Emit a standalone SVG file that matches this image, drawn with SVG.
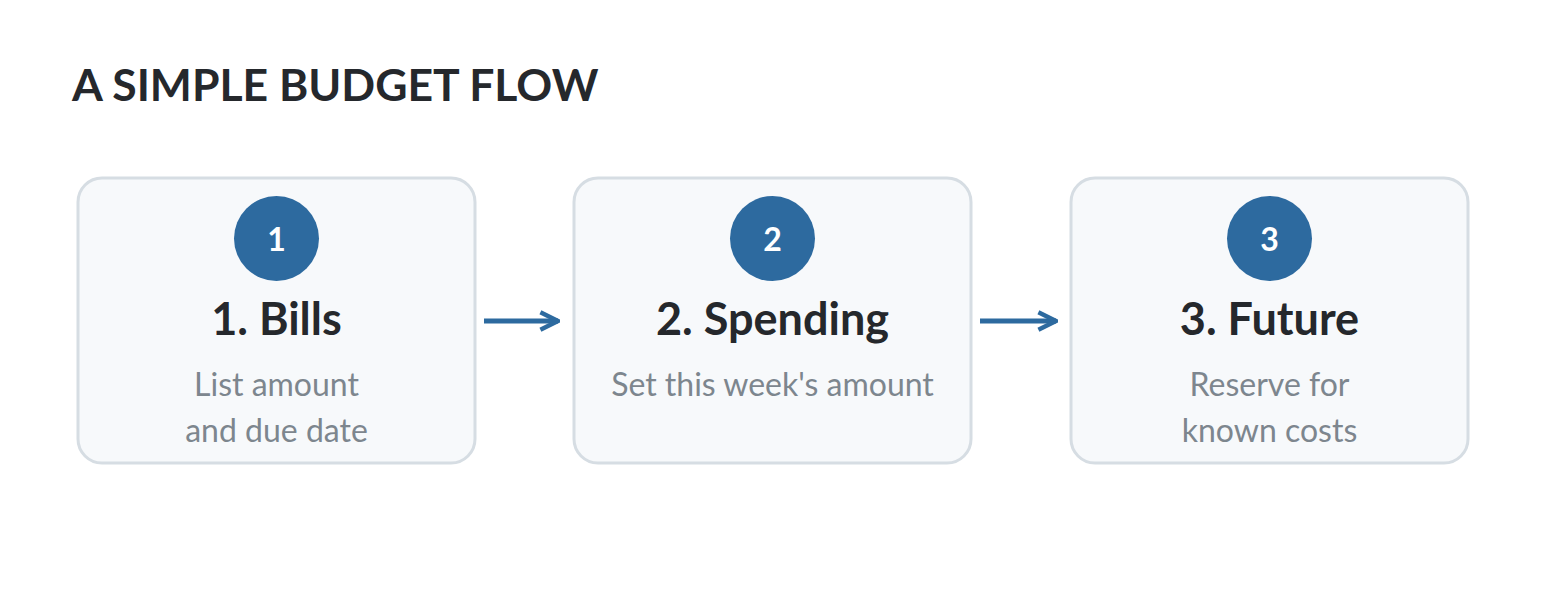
<svg xmlns="http://www.w3.org/2000/svg" width="1546" height="600" viewBox="0 0 1546 600">
<style>
.box{fill:#f7f9fb;stroke:#d6dde3;stroke-width:3}
.badge{fill:#2d6a9f}
.num{font-family:Lato,"Noto Sans","Liberation Sans",sans-serif;font-weight:700;font-size:32px;fill:#ffffff;text-anchor:middle}
.head{font-family:Lato,"Noto Sans","Liberation Sans",sans-serif;font-weight:700;font-size:45px;fill:#25282c;text-anchor:middle}
.sub{font-family:Lato,"Noto Sans","Liberation Sans",sans-serif;font-size:32px;fill:#7d868e;text-anchor:middle}
.title{font-family:Lato,"Noto Sans","Liberation Sans",sans-serif;font-weight:700;font-size:44.5px;fill:#25282c}
.edge{stroke:#2d6a9f;stroke-width:5;fill:none}
</style>
<defs>
<marker id="arr" viewBox="0 0 10 10" refX="9" refY="5" markerWidth="4.4" markerHeight="6" markerUnits="strokeWidth" orient="auto">
<path d="M1,1 L9,5 L1,9" fill="none" stroke="#2d6a9f" stroke-width="2"/>
</marker>
</defs>
<rect width="1546" height="600" fill="#ffffff"/>
<text class="title" x="72" y="101">A SIMPLE BUDGET FLOW</text>
<g id="connectors">
<line class="edge" x1="484" y1="321" x2="558" y2="321" marker-end="url(#arr)"/>
<line class="edge" x1="980" y1="321" x2="1056" y2="321" marker-end="url(#arr)"/>
</g>
<g id="node1">
<rect class="box" x="78" y="178" width="397" height="285" rx="24"/>
<circle class="badge" cx="276.5" cy="238.5" r="42.5"/>
<text class="num" x="276.5" y="251">1</text>
<text class="head" x="276.5" y="335">1. Bills</text>
<text class="sub" x="276.5" y="396">List amount</text>
<text class="sub" x="276.5" y="442">and due date</text>
</g>
<g id="node2">
<rect class="box" x="574" y="178" width="397" height="285" rx="24"/>
<circle class="badge" cx="772.5" cy="238.5" r="42.5"/>
<text class="num" x="772.5" y="251">2</text>
<text class="head" x="772.5" y="335">2. Spending</text>
<text class="sub" x="772.5" y="396">Set this week's amount</text>
</g>
<g id="node3">
<rect class="box" x="1071" y="178" width="397" height="285" rx="24"/>
<circle class="badge" cx="1269.5" cy="238.5" r="42.5"/>
<text class="num" x="1269.5" y="251">3</text>
<text class="head" x="1269.5" y="335">3. Future</text>
<text class="sub" x="1269.5" y="396">Reserve for</text>
<text class="sub" x="1269.5" y="442">known costs</text>
</g>
</svg>
